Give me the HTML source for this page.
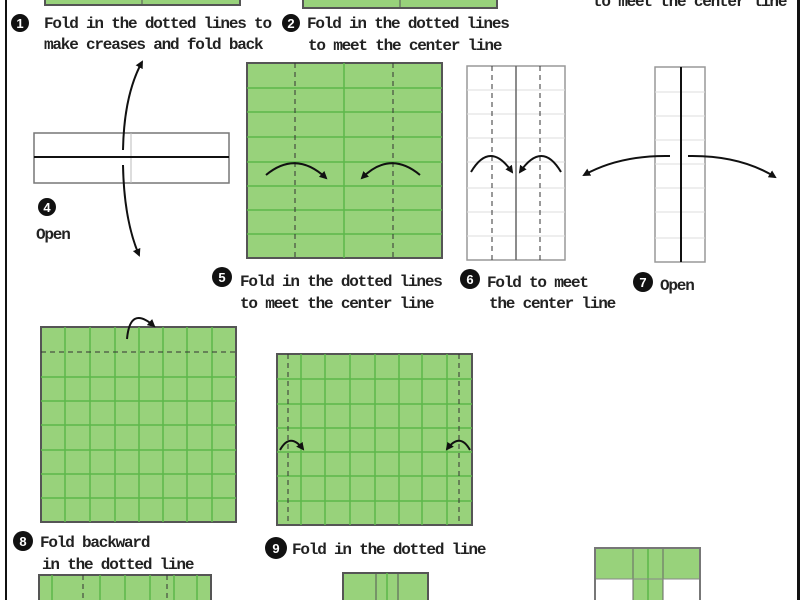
<!DOCTYPE html>
<html><head><meta charset="utf-8"><style>
html,body{margin:0;padding:0;background:#fff;}
svg{display:block;}
text{font-family:"Liberation Mono",monospace;font-weight:bold;font-size:16px;letter-spacing:-1.2px;fill:#222;}
.n{fill:#fff;font-family:"Liberation Sans",sans-serif;font-size:13px;letter-spacing:0;font-weight:bold;text-anchor:middle;}
.g{fill:#98d27b;stroke:#555;stroke-width:2;}
.gl{stroke:#5cb84a;stroke-width:1.5;}
.gr{stroke:#bbb;stroke-width:1;}
.d{stroke:#333;stroke-width:1;stroke-dasharray:5,4;}
.a{fill:none;stroke:#111;stroke-width:2;}
</style></head><body>
<svg width="800" height="600" viewBox="0 0 800 600" xmlns="http://www.w3.org/2000/svg">
<defs><marker id="ah" markerWidth="8" markerHeight="8" refX="6" refY="4" orient="auto" markerUnits="userSpaceOnUse"><path d="M0,0 L8,4 L0,8 z" fill="#111"/></marker></defs>
<rect x="5" y="0" width="2" height="600" fill="#111"/>
<rect x="797" y="0" width="3" height="600" fill="#111"/>

<rect x="45" y="-2" width="195" height="7" class="g"/>
<line x1="142" y1="0" x2="142" y2="5" stroke="#555"/>
<rect x="303" y="-2" width="194" height="10" class="g"/>
<line x1="400" y1="0" x2="400" y2="8" stroke="#555"/>
<text x="593" y="6">to meet the center line</text>

<circle cx="20" cy="23" r="9" fill="#111"/><text class="n" x="20" y="28">1</text>
<text x="44" y="28">Fold in the dotted lines to</text>
<text x="44" y="49">make creases and fold back</text>
<circle cx="291" cy="23" r="9" fill="#111"/><text class="n" x="291" y="28">2</text>
<text x="307" y="28">Fold in the dotted lines</text>
<text x="308" y="50">to meet the center line</text>

<rect x="34" y="133" width="195" height="50" fill="#fff" stroke="#777" stroke-width="1.5"/>
<line x1="131" y1="133" x2="131" y2="183" class="gr"/>
<line x1="34" y1="157" x2="229" y2="157" stroke="#111" stroke-width="2"/>
<path class="a" d="M123,150 Q124,95 142,62" marker-end="url(#ah)"/>
<path class="a" d="M123,165 Q124,220 139,255" marker-end="url(#ah)"/>
<circle cx="47" cy="207" r="9" fill="#111"/><text class="n" x="47" y="212">4</text>
<text x="36" y="239">Open</text>

<rect x="247" y="63" width="195" height="195" class="g"/>
<g class="gl"><line x1="247" y1="88" x2="442" y2="88"/><line x1="247" y1="112" x2="442" y2="112"/><line x1="247" y1="137" x2="442" y2="137"/><line x1="247" y1="162" x2="442" y2="162"/><line x1="247" y1="186" x2="442" y2="186"/><line x1="247" y1="210" x2="442" y2="210"/><line x1="247" y1="234" x2="442" y2="234"/><line x1="344" y1="63" x2="344" y2="258"/></g>
<line x1="295" y1="63" x2="295" y2="258" class="d"/><line x1="393" y1="63" x2="393" y2="258" class="d"/>
<path class="a" d="M266,175 Q296,150 326,178" marker-end="url(#ah)"/>
<path class="a" d="M420,175 Q390,150 362,178" marker-end="url(#ah)"/>
<circle cx="222" cy="277" r="10" fill="#111"/><text class="n" x="222" y="282">5</text>
<text x="240" y="286">Fold in the dotted lines</text>
<text x="240" y="308">to meet the center line</text>

<rect x="467" y="66" width="98" height="194" fill="#fff" stroke="#999" stroke-width="1.5"/>
<g stroke="#ddd"><line x1="467" y1="90" x2="565" y2="90"/><line x1="467" y1="114" x2="565" y2="114"/><line x1="467" y1="138" x2="565" y2="138"/><line x1="467" y1="162" x2="565" y2="162"/><line x1="467" y1="188" x2="565" y2="188"/><line x1="467" y1="212" x2="565" y2="212"/><line x1="467" y1="236" x2="565" y2="236"/></g>
<line x1="516" y1="66" x2="516" y2="260" stroke="#666" stroke-width="1.5"/>
<line x1="492" y1="66" x2="492" y2="260" class="d"/><line x1="540" y1="66" x2="540" y2="260" class="d"/>
<path class="a" d="M471,172 Q490,140 512,172" marker-end="url(#ah)"/>
<path class="a" d="M561,172 Q542,140 520,172" marker-end="url(#ah)"/>
<circle cx="470" cy="279" r="10" fill="#111"/><text class="n" x="470" y="284">6</text>
<text x="487" y="287">Fold to meet</text>
<text x="489" y="308">the center line</text>

<rect x="655" y="67" width="50" height="195" fill="#fff" stroke="#999" stroke-width="1.5"/>
<g stroke="#ddd"><line x1="655" y1="92" x2="705" y2="92"/><line x1="655" y1="116" x2="705" y2="116"/><line x1="655" y1="140" x2="705" y2="140"/><line x1="655" y1="164" x2="705" y2="164"/><line x1="655" y1="188" x2="705" y2="188"/><line x1="655" y1="212" x2="705" y2="212"/><line x1="655" y1="238" x2="705" y2="238"/></g>
<line x1="681" y1="67" x2="681" y2="262" stroke="#111" stroke-width="2"/>
<path class="a" d="M670,156 Q620,155 584,175" marker-end="url(#ah)"/>
<path class="a" d="M688,156 Q740,155 775,177" marker-end="url(#ah)"/>
<circle cx="643" cy="282" r="10" fill="#111"/><text class="n" x="643" y="287">7</text>
<text x="660" y="290">Open</text>

<rect x="41" y="327" width="195" height="195" class="g"/>
<g class="gl"><line x1="65" y1="327" x2="65" y2="522"/><line x1="90" y1="327" x2="90" y2="522"/><line x1="115" y1="327" x2="115" y2="522"/><line x1="139" y1="327" x2="139" y2="522"/><line x1="163" y1="327" x2="163" y2="522"/><line x1="187" y1="327" x2="187" y2="522"/><line x1="212" y1="327" x2="212" y2="522"/>
<line x1="41" y1="377" x2="236" y2="377"/><line x1="41" y1="401" x2="236" y2="401"/><line x1="41" y1="425" x2="236" y2="425"/><line x1="41" y1="450" x2="236" y2="450"/><line x1="41" y1="474" x2="236" y2="474"/><line x1="41" y1="498" x2="236" y2="498"/></g>
<line x1="41" y1="352" x2="236" y2="352" class="d"/>
<path class="a" d="M127,339 Q130,305 154,326" marker-end="url(#ah)"/>
<circle cx="23" cy="541" r="10" fill="#111"/><text class="n" x="23" y="546">8</text>
<text x="40" y="547">Fold backward</text>
<text x="42" y="569">in the dotted line</text>

<rect x="277" y="354" width="195" height="171" class="g"/>
<g class="gl"><line x1="301" y1="354" x2="301" y2="525"/><line x1="325" y1="354" x2="325" y2="525"/><line x1="350" y1="354" x2="350" y2="525"/><line x1="375" y1="354" x2="375" y2="525"/><line x1="399" y1="354" x2="399" y2="525"/><line x1="422" y1="354" x2="422" y2="525"/><line x1="447" y1="354" x2="447" y2="525"/>
<line x1="277" y1="379" x2="472" y2="379"/><line x1="277" y1="404" x2="472" y2="404"/><line x1="277" y1="428" x2="472" y2="428"/><line x1="277" y1="452" x2="472" y2="452"/><line x1="277" y1="476" x2="472" y2="476"/><line x1="277" y1="501" x2="472" y2="501"/></g>
<line x1="288" y1="354" x2="288" y2="525" class="d"/><line x1="459" y1="354" x2="459" y2="525" class="d"/>
<path class="a" d="M280,450 Q290,432 303,449" marker-end="url(#ah)"/>
<path class="a" d="M470,450 Q460,432 447,449" marker-end="url(#ah)"/>
<circle cx="276" cy="548" r="11" fill="#111"/><text class="n" x="276" y="553">9</text>
<text x="292" y="554">Fold in the dotted line</text>

<rect x="39" y="575" width="172" height="30" class="g"/>
<g class="gl"><line x1="52" y1="575" x2="52" y2="600"/><line x1="100" y1="575" x2="100" y2="600"/><line x1="125" y1="575" x2="125" y2="600"/><line x1="150" y1="575" x2="150" y2="600"/><line x1="174" y1="575" x2="174" y2="600"/><line x1="197" y1="575" x2="197" y2="600"/></g>
<line x1="83" y1="575" x2="83" y2="600" class="d"/><line x1="167" y1="575" x2="167" y2="600" class="d"/>

<rect x="343" y="573" width="85" height="32" class="g"/>
<line x1="376" y1="573" x2="376" y2="600" stroke="#555"/><line x1="398" y1="573" x2="398" y2="600" stroke="#555"/>
<line x1="387" y1="573" x2="387" y2="600" class="gl"/>

<rect x="595" y="548" width="105" height="60" fill="#fff" stroke="#777" stroke-width="2"/>
<rect x="595" y="548" width="105" height="31" fill="#98d27b"/>
<rect x="633" y="548" width="30" height="55" fill="#98d27b"/>
<line x1="633" y1="548" x2="633" y2="600" stroke="#666"/><line x1="663" y1="548" x2="663" y2="600" stroke="#666"/>
<line x1="648" y1="548" x2="648" y2="600" class="gl"/>
<line x1="595" y1="579" x2="700" y2="579" stroke="#888"/>
<rect x="595" y="548" width="105" height="60" fill="none" stroke="#777" stroke-width="2"/>
</svg>
</body></html>
